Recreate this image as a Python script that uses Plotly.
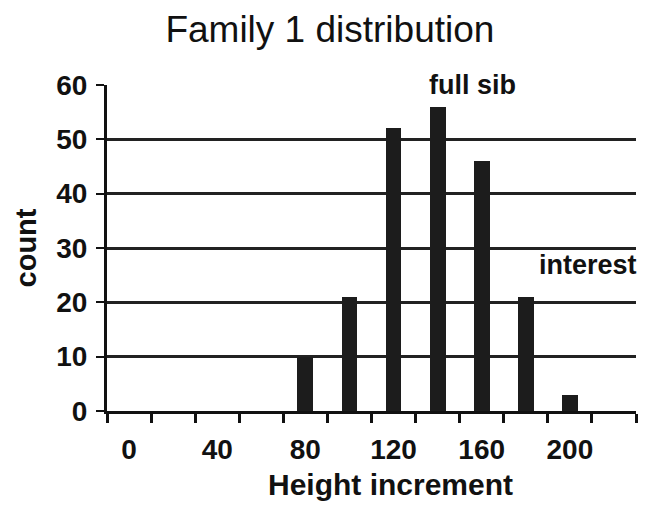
import plotly.graph_objects as go

# Data
height_bins = [0, 20, 40, 60, 80, 100, 120, 140, 160, 180, 200, 220]
counts = [0, 0, 0, 0, 10, 21, 52, 56, 46, 21, 3, 0]
x_tick_vals = [0, 40, 80, 120, 160, 200]
x_tick_text = ["0", "40", "80", "120", "160", "200"]
y_tick_vals = [0, 10, 20, 30, 40, 50, 60]

FONT = "Liberation Sans, Arial, sans-serif"
INK = "#111"

fig = go.Figure()
fig.add_trace(go.Bar(
    x=height_bins,
    y=counts,
    width=7.2,
    marker=dict(color="#1c1c1c", line=dict(width=0)),
))

fig.add_annotation(x=156, y=60, text="<b>full sib</b>", showarrow=False,
                   font=dict(family=FONT, size=27, color=INK),
                   xanchor="center", yanchor="middle")
fig.add_annotation(x=208, y=26.8, text="<b>interest</b>", showarrow=False,
                   font=dict(family=FONT, size=27, color=INK),
                   xanchor="center", yanchor="middle")
# x-axis title (sits right of the plot centre in the original)
fig.add_annotation(xref="paper", yref="paper", x=0.535, y=0, yshift=-73,
                   text="<b>Height increment</b>", showarrow=False,
                   font=dict(family=FONT, size=30, color=INK),
                   xanchor="center", yanchor="middle")

# page body has an 8px margin, so the figure is sized/offset to compensate
fig.update_layout(
    width=649, height=499,
    margin=dict(l=99, r=21, t=77, b=96),
    paper_bgcolor="white", plot_bgcolor="white",
    showlegend=False,
    bargap=0,
    title=dict(text="Family 1 distribution", x=0.496, xanchor="center",
               xref="container", y=0.958, yref="container", yanchor="middle",
               font=dict(family=FONT, size=37, color=INK)),
    font=dict(family=FONT, color=INK),
)

fig.update_xaxes(
    range=[-10, 230],
    tickmode="array", tickvals=x_tick_vals, ticktext=x_tick_text,
    ticks="", showgrid=False, zeroline=False,
    showline=True, linewidth=3, linecolor=INK,
    tickfont=dict(family=FONT, size=28, color=INK, weight="bold"),
    ticklabelstandoff=11,
    minor=dict(ticks="outside", tick0=-10, dtick=20, ticklen=9, tickwidth=3,
               tickcolor=INK, showgrid=False),
)

fig.update_yaxes(
    range=[0, 60],
    tickmode="array", tickvals=y_tick_vals,
    ticks="outside", ticklen=8, tickwidth=2, tickcolor=INK,
    showgrid=True, gridcolor="#222", gridwidth=2.5,
    zeroline=False,
    showline=True, linewidth=3, linecolor=INK,
    tickfont=dict(family=FONT, size=28, color=INK, weight="bold"),
    ticklabelstandoff=3,
    title=dict(text="<b>count</b>", standoff=12,
               font=dict(family=FONT, size=29, color=INK)),
)

fig.write_html("out.html")
